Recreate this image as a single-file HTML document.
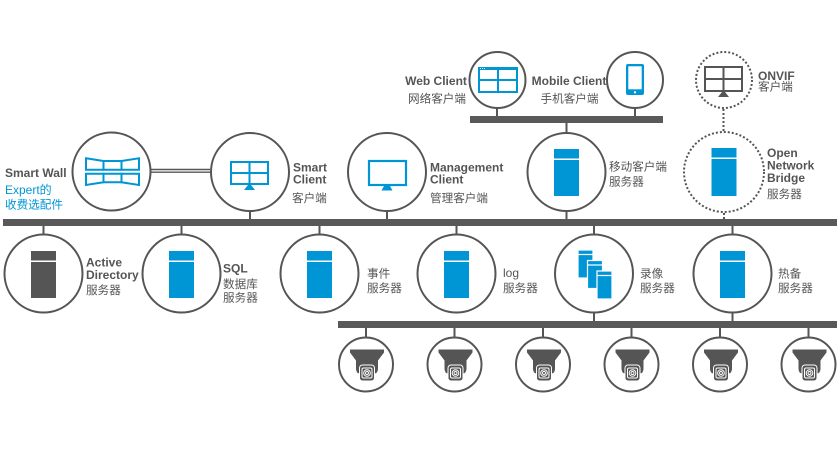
<!DOCTYPE html>
<html><head><meta charset="utf-8"><style>
html,body{margin:0;padding:0;background:#fff;}
svg{display:block;}
text{font-family:"Liberation Sans","Noto Sans CJK SC",sans-serif;fill:#555;}
.b{font-weight:bold;font-size:12px;}
.c{font-size:11.6px;}
.n{font-size:12px;}
.bl{fill:#0096d6;}
</style></head><body>
<svg width="840" height="460" viewBox="0 0 840 460" xmlns="http://www.w3.org/2000/svg">
<rect width="840" height="460" fill="#fff"/>
<!-- buses -->
<rect x="3" y="219" width="834" height="7" fill="#595959"/>
<rect x="470" y="116" width="193" height="7" fill="#595959"/>
<rect x="338" y="321" width="499" height="7" fill="#595959"/>

<!-- stems -->
<g stroke="#555" stroke-width="2">
<line x1="250" y1="211" x2="250" y2="219"/>
<line x1="387" y1="211" x2="387" y2="219"/>
<line x1="566.5" y1="211" x2="566.5" y2="219"/>
<line x1="566.5" y1="123" x2="566.5" y2="133"/>
<line x1="497" y1="108" x2="497" y2="116"/>
<line x1="635" y1="108" x2="635" y2="116"/>
<line x1="43.5" y1="226" x2="43.5" y2="234"/>
<line x1="181.5" y1="226" x2="181.5" y2="234"/>
<line x1="319.5" y1="226" x2="319.5" y2="234"/>
<line x1="456.5" y1="226" x2="456.5" y2="234"/>
<line x1="594" y1="226" x2="594" y2="234"/>
<line x1="732.5" y1="226" x2="732.5" y2="234"/>
<line x1="594" y1="313" x2="594" y2="321"/>
<line x1="732.5" y1="313" x2="732.5" y2="321"/>
<line x1="366" y1="328" x2="366" y2="338"/>
<line x1="454.5" y1="328" x2="454.5" y2="338"/>
<line x1="543" y1="328" x2="543" y2="338"/>
<line x1="631.5" y1="328" x2="631.5" y2="338"/>
<line x1="720" y1="328" x2="720" y2="338"/>
<line x1="808.5" y1="328" x2="808.5" y2="338"/>
</g>
<!-- double line -->
<line x1="151" y1="169.5" x2="210" y2="169.5" stroke="#555" stroke-width="1.6"/>
<line x1="151" y1="172.2" x2="210" y2="172.2" stroke="#555" stroke-width="1.4"/>
<!-- dotted stems -->
<g stroke="#555" stroke-width="2" stroke-dasharray="2 2">
<line x1="723.5" y1="109" x2="723.5" y2="131"/>
<line x1="724" y1="213" x2="724" y2="219"/>
</g>

<!-- circles -->
<g fill="#fff" stroke="#555" stroke-width="2">
<circle cx="111.5" cy="171.5" r="39"/>
<circle cx="250" cy="172" r="39"/>
<circle cx="387" cy="172" r="39"/>
<circle cx="566.5" cy="172" r="39"/>
<circle cx="497.5" cy="80" r="28"/>
<circle cx="635" cy="80" r="28"/>
<circle cx="43.5" cy="273.5" r="39"/>
<circle cx="181.5" cy="273.5" r="39"/>
<circle cx="319.5" cy="273.5" r="39"/>
<circle cx="456.5" cy="273.5" r="39"/>
<circle cx="594" cy="273.5" r="39"/>
<circle cx="732.5" cy="273.5" r="39"/>
<circle cx="366" cy="364.5" r="27"/>
<circle cx="454.5" cy="364.5" r="27"/>
<circle cx="543" cy="364.5" r="27"/>
<circle cx="631.5" cy="364.5" r="27"/>
<circle cx="720" cy="364.5" r="27"/>
<circle cx="808.5" cy="364.5" r="27"/>
</g>
<g fill="#fff" stroke="#555" stroke-width="2" stroke-dasharray="2 2">
<circle cx="724" cy="80" r="28"/>
<circle cx="724" cy="172" r="40"/>
</g>

<!-- smart wall icon -->
<g fill="#fff" stroke="#0096d6" stroke-width="2" stroke-linejoin="miter">
<polygon points="86,158.3 103.5,161 103.5,169.7 86,169.7"/>
<polygon points="103.5,161 121.5,161 121.5,169.7 103.5,169.7"/>
<polygon points="121.5,161 139,158.3 139,169.7 121.5,169.7"/>
<polygon points="86,173.7 103.5,173.7 103.5,182.3 86,185"/>
<polygon points="103.5,173.7 121.5,173.7 121.5,182.3 103.5,182.3"/>
<polygon points="121.5,173.7 139,173.7 139,185 121.5,182.3"/>
</g>

<!-- smart client monitor -->
<g stroke="#0096d6" stroke-width="2" fill="none">
<rect x="231" y="162" width="37" height="22"/>
<line x1="249.5" y1="162" x2="249.5" y2="184"/>
<line x1="231" y1="173" x2="268" y2="173"/>
</g>
<polygon points="248,185 251,185 255,190 244,190" fill="#0096d6"/>

<!-- management monitor -->
<rect x="369" y="161" width="37" height="24" fill="none" stroke="#0096d6" stroke-width="2.2"/>
<polygon points="384,186 390,186 392.5,190.5 381.5,190.5" fill="#0096d6"/>

<!-- web client -->
<g stroke="#0096d6" stroke-width="2" fill="none">
<rect x="479" y="68" width="38" height="24"/>
<line x1="498" y1="68" x2="498" y2="92"/>
<line x1="479" y1="80" x2="517" y2="80"/>
</g>
<rect x="478" y="67" width="40" height="3" fill="#0096d6"/>
<g fill="#fff"><rect x="480" y="68" width="1" height="1"/><rect x="482" y="68" width="1" height="1"/><rect x="484" y="68" width="1" height="1"/></g>

<!-- phone -->
<rect x="626" y="64" width="18" height="31" rx="2" fill="#0096d6"/>
<rect x="628.3" y="66.3" width="13.4" height="23" fill="#fff"/>
<rect x="634" y="91.3" width="2" height="2" fill="#fff"/>

<!-- onvif monitor -->
<g stroke="#555" stroke-width="2" fill="none">
<rect x="705" y="67" width="37" height="24"/>
<line x1="723.5" y1="67" x2="723.5" y2="91"/>
<line x1="705" y1="79" x2="742" y2="79"/>
</g>
<polygon points="722,92 725,92 729,97 718,97" fill="#555"/>

<!-- servers -->
<g fill="#555">
<rect x="31" y="251" width="25" height="9.5"/>
<rect x="31" y="262" width="25" height="36"/>
</g>
<g fill="#0096d6">
<rect x="169" y="251" width="25" height="9.5"/><rect x="169" y="262" width="25" height="36"/>
<rect x="307" y="251" width="25" height="9.5"/><rect x="307" y="262" width="25" height="36"/>
<rect x="444" y="251" width="25" height="9.5"/><rect x="444" y="262" width="25" height="36"/>
<rect x="720" y="251" width="25" height="9.5"/><rect x="720" y="262" width="25" height="36"/>
<rect x="554" y="149" width="25" height="9.5"/><rect x="554" y="160" width="25" height="36"/>
<rect x="711.5" y="148" width="25" height="9.5"/><rect x="711.5" y="159" width="25" height="37"/>
</g>
<!-- recording stacked -->
<g stroke="#fff" stroke-width="1.2">
<rect x="578" y="250" width="15" height="28" fill="#0096d6"/>
<line x1="578" y1="254.5" x2="593" y2="254.5"/>
<rect x="587.5" y="260.5" width="15" height="28" fill="#0096d6"/>
<line x1="587.5" y1="265" x2="602.5" y2="265"/>
<rect x="597" y="271" width="15" height="28" fill="#0096d6"/>
<line x1="597" y1="275.5" x2="612" y2="275.5"/>
</g>

<!-- cameras -->
<defs>
<g id="cam">
<path d="M-17,-15 H17 V-12 L11,-4 V4 Q11,9 7,9 H-7 Q-11,9 -11,4 V-4 L-17,-12 Z" fill="#555"/>
<rect x="-7.5" y="0.5" width="15" height="16" rx="3" fill="#555" stroke="#fff" stroke-width="1"/>
<rect x="-5" y="3.5" width="10" height="10" rx="1.5" fill="none" stroke="#fff" stroke-width="1"/>
<circle cx="0" cy="8.5" r="3.3" fill="none" stroke="#fff" stroke-width="1"/>
<circle cx="0" cy="8.5" r="1.5" fill="none" stroke="#fff" stroke-width="0.9"/>
</g>
</defs>
<use href="#cam" x="367" y="364.5"/>
<use href="#cam" x="455.5" y="364.5"/>
<use href="#cam" x="544" y="364.5"/>
<use href="#cam" x="632.5" y="364.5"/>
<use href="#cam" x="721" y="364.5"/>
<use href="#cam" x="809.5" y="364.5"/>

<!-- labels -->
<text class="b" x="5" y="177">Smart Wall</text>
<text class="n bl" x="5" y="194">Expert的</text>
<text class="c bl" x="5" y="208.5">收费选配件</text>

<text class="b" x="293" y="171.5">Smart</text>
<text class="b" x="293" y="183.5">Client</text>
<text class="c" x="292" y="202">客户端</text>

<text class="b" x="430" y="171.5">Management</text>
<text class="b" x="430" y="183.5">Client</text>
<text class="c" x="430" y="202">管理客户端</text>

<text class="b" x="436" y="85" text-anchor="middle">Web Client</text>
<text class="c" x="437" y="102.5" text-anchor="middle">网络客户端</text>
<text class="b" x="569" y="85" text-anchor="middle">Mobile Client</text>
<text class="c" x="569.5" y="102.5" text-anchor="middle">手机客户端</text>

<text class="b" x="758" y="80">ONVIF</text>
<text class="c" x="758" y="90.5">客户端</text>

<text class="c" x="609" y="170.5">移动客户端</text>
<text class="c" x="609" y="185.5">服务器</text>

<text class="b" x="767" y="157">Open</text>
<text class="b" x="767" y="169.5">Network</text>
<text class="b" x="767" y="182">Bridge</text>
<text class="c" x="767" y="198">服务器</text>

<text class="b" x="86" y="266.5">Active</text>
<text class="b" x="86" y="279">Directory</text>
<text class="c" x="86" y="294">服务器</text>

<text class="b" x="223" y="272.5">SQL</text>
<text class="c" x="223" y="288">数据库</text>
<text class="c" x="223" y="301.5">服务器</text>

<text class="c" x="367" y="277.5">事件</text>
<text class="c" x="367" y="292">服务器</text>

<text class="n" x="503" y="277">log</text>
<text class="c" x="503" y="292">服务器</text>

<text class="c" x="640" y="277.5">录像</text>
<text class="c" x="640" y="292">服务器</text>

<text class="c" x="778" y="277.5">热备</text>
<text class="c" x="778" y="292">服务器</text>
</svg>
</body></html>
